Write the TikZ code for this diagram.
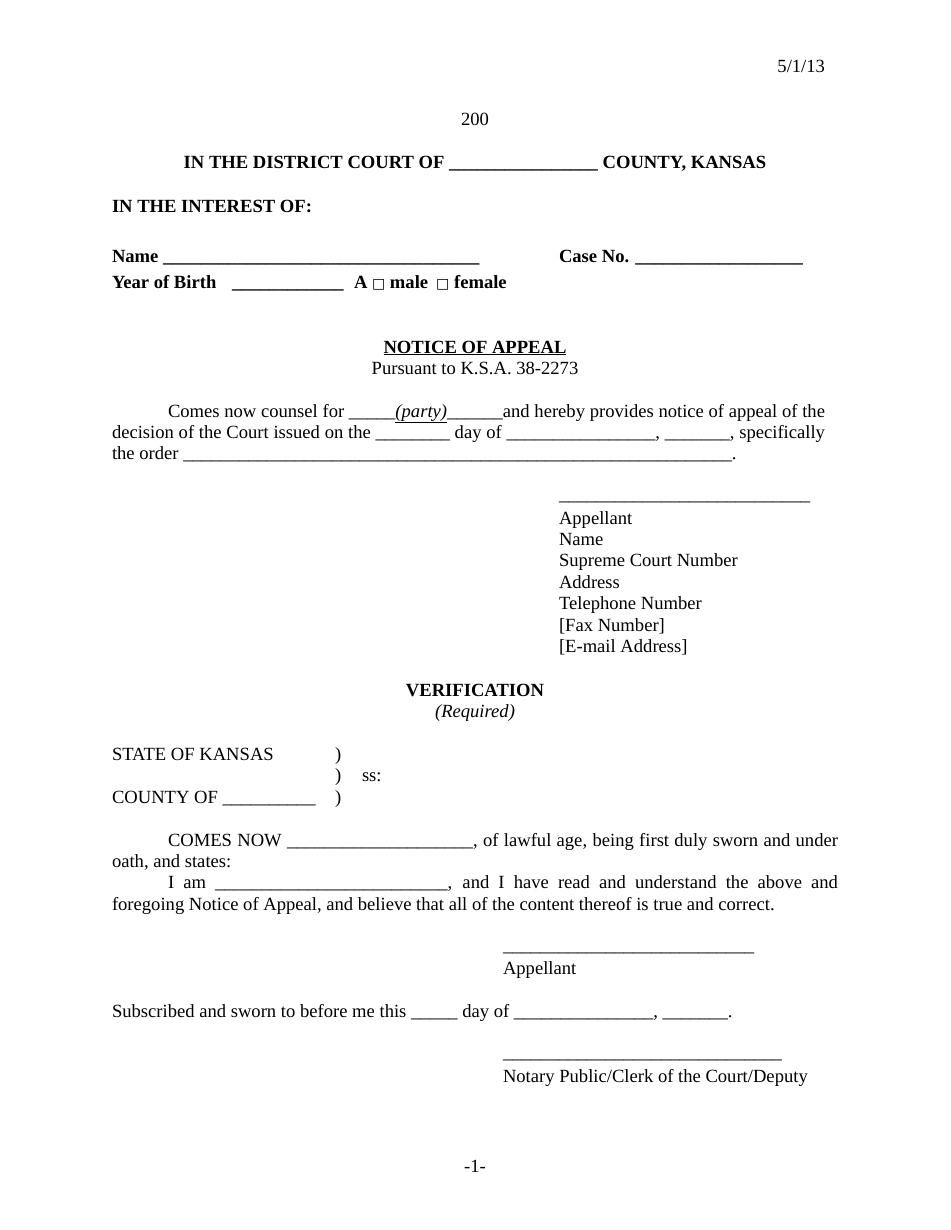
\documentclass[tikz,border=0pt]{standalone}
\usepackage{fontspec}
\setmainfont{Liberation Serif}
\newfontfamily\dejavu{DejaVu Sans}
\newcommand{\ubar}[1]{\count255=0 \loop\ifnum\count255<#1 \_\advance\count255 by 1 \repeat}
\newcommand{\sqbox}{{\dejavu\fontsize{14}{14}\selectfont □}}
\begin{document}
\begin{tikzpicture}[x=1pt,y=-1pt,
  every node/.style={inner sep=0pt,outer sep=0pt,font=\fontsize{18.6}{21.4}\selectfont},
  txt/.style={anchor=base west},
  ctr/.style={anchor=base},
  bld/.style={anchor=base west,font=\fontsize{18.6}{21.4}\selectfont\bfseries}]
\useasboundingbox[fill=white] (0,0) rectangle (950,1230);
\node[anchor=base east] (date) at (825,73) {5/1/13};
\node[ctr] (num) at (475,126) {200};
\node[ctr,font=\fontsize{18.6}{21.4}\selectfont\bfseries] (court) at (475,169) {IN THE DISTRICT COURT OF \ubar{16} COUNTY, KANSAS};
\node[bld] (interest) at (112,213) {IN THE INTEREST OF:};
\node[bld] (name) at (112,263) {Name \ubar{34}};
\node[bld] (case) at (559,263) {Case No. \ubar{18}};
\node[bld] (yob) at (112,289) {Year of Birth};
\node[bld] (yobblank) at (232,289) {\ubar{12}};
\node[bld] (sex) at (354,289) {A \sqbox{} male\hspace{8pt}\sqbox{} female};
\node[ctr,font=\fontsize{18.6}{21.4}\selectfont\bfseries] (title) at (475,353) {\underline{NOTICE OF APPEAL}};
\node[ctr] (pursuant) at (475,374) {Pursuant to K.S.A. 38-2273};
\node[txt] (p1) at (168,417) {\makebox[657pt][s]{Comes now counsel for \ubar{5}\underline{\itshape(party)}\ubar{6}and hereby provides notice of appeal of the}};
\node[txt] (p2) at (112,438) {\makebox[713pt][s]{decision of the Court issued on the \ubar{8} day of \ubar{16}, \ubar{7}, specifically}};
\node[txt] (p3) at (112,459) {the order \ubar{59}.};
\node[txt] (sig1) at (559,500) {\ubar{27}};
\foreach \t [count=\k from 0] in {Appellant,Name,Supreme Court Number,Address,Telephone Number,[Fax Number],[E-mail Address]}
  \node[txt] (app\k) at (559,524+21.4*\k) {\t};
\node[ctr,font=\fontsize{18.6}{21.4}\selectfont\bfseries] (verif) at (475,696) {VERIFICATION};
\node[ctr,font=\fontsize{18.6}{21.4}\selectfont\itshape] (req) at (475,717) {(Required)};
\node[txt] (state) at (112,760) {STATE OF KANSAS};
\node[txt] (par1) at (335,760) {)};
\node[txt] (par2) at (335,781) {)};
\node[txt] (ss) at (362,781) {ss:};
\node[txt] (county) at (112,803) {COUNTY OF \ubar{10}};
\node[txt] (par3) at (335,803) {)};
\node[txt] (c1) at (168,846) {\makebox[670pt][s]{COMES NOW \ubar{20}, of lawful age, being first duly sworn and under}};
\node[txt] (c2) at (112,867) {oath, and states:};
\node[txt] (c3) at (168,888) {\makebox[670pt][s]{I am \ubar{25}, and I have read and understand the above and}};
\node[txt] (c4) at (112,910) {foregoing Notice of Appeal, and believe that all of the content thereof is true and correct.};
\node[txt] (sig2) at (503,951) {\ubar{27}};
\node[txt] (app2) at (503,974) {Appellant};
\node[txt] (subs) at (112,1017) {Subscribed and sworn to before me this \ubar{5} day of \ubar{15}, \ubar{7}.};
\node[txt] (sig3) at (503,1058) {\ubar{30}};
\node[txt] (notary) at (503,1082) {Notary Public/Clerk of the Court/Deputy};
\node[ctr] (page) at (475,1172) {-1-};
\end{tikzpicture}
\end{document}
